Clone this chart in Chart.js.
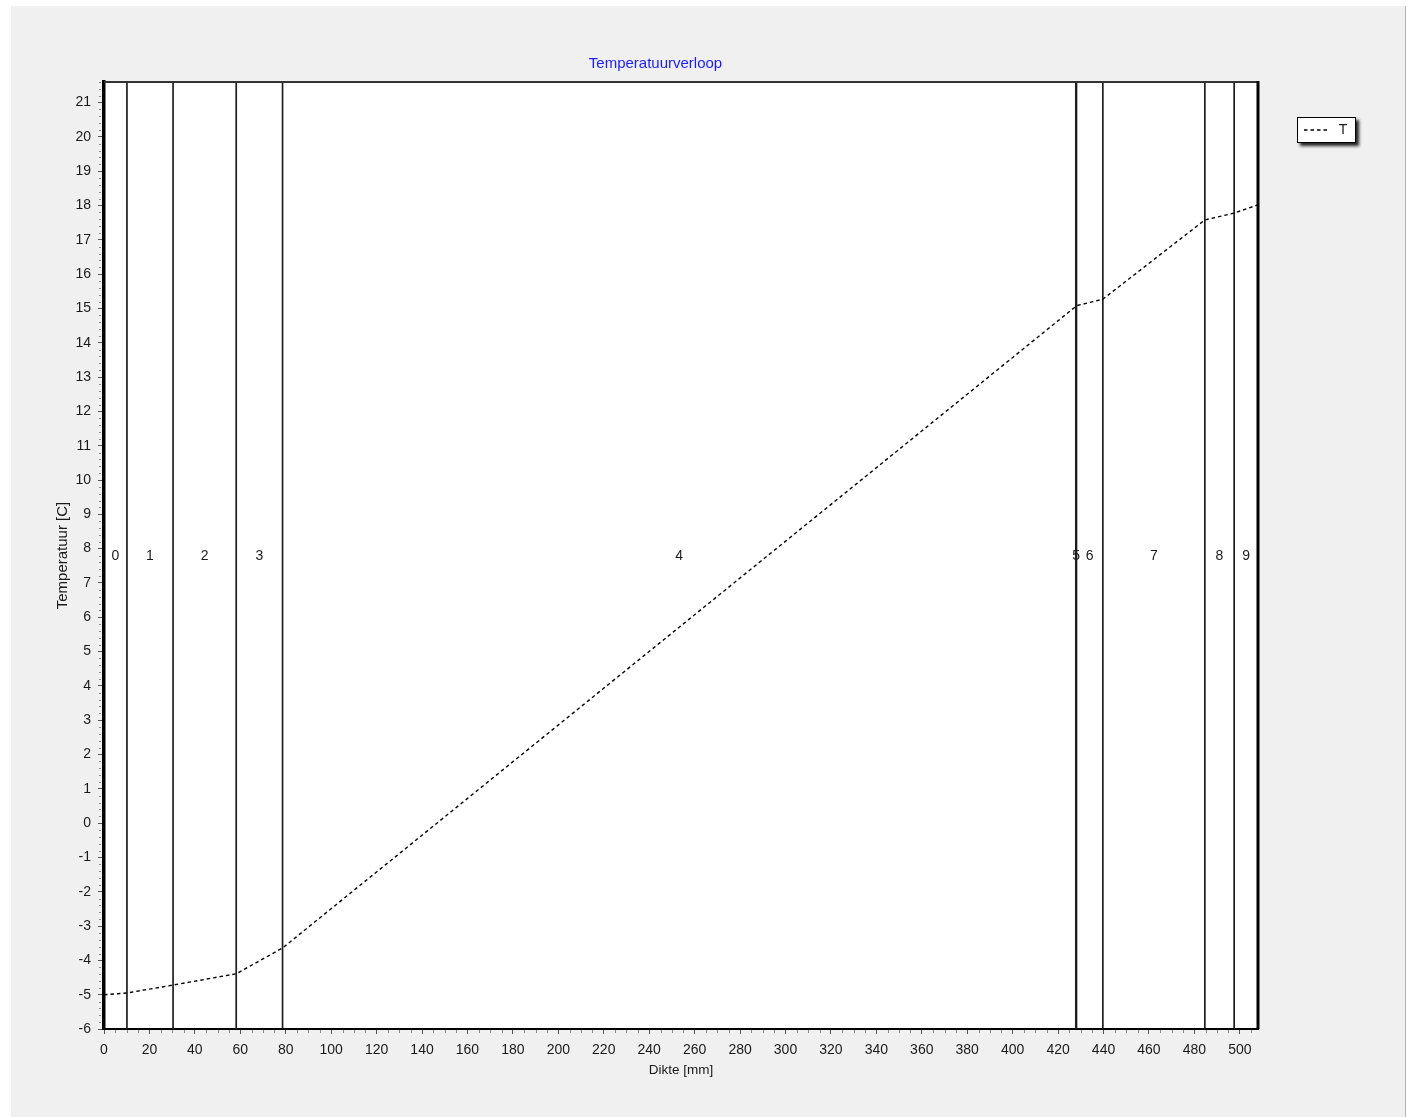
<!DOCTYPE html>
<html>
<head>
<meta charset="utf-8">
<title>Temperatuurverloop</title>
<script src="https://cdn.jsdelivr.net/npm/chart.js@4/dist/chart.umd.min.js"></script>
<style>
  html, body { margin: 0; padding: 0; background: #ffffff; }
  #frame {
    position: absolute; left: 11px; top: 6px; width: 1394px; height: 1111px;
    background: #f0f0f0; border-right: 1px solid #b4b4b4;
  }
  #chart { position: absolute; left: 0; top: 0; }
</style>
</head>
<body>
<div id="frame"></div>
<canvas id="chart" width="1412" height="1117"></canvas>
<script>
// layer numbers, shown in the middle of each layer
var layerNames = ['0', '1', '2', '3', '4', '5', '6', '7', '8', '9'];
// layer boundaries [mm], first is 0, last is total thickness
var layerEdges = [0, 10.1, 30.4, 58.2, 78.6, 427.8, 428.1, 439.7, 484.6, 497.5, 508];
// temperature at each boundary [C]
var temps = [-5.0, -4.95, -4.72, -4.39, -3.64, 15.06, 15.08, 15.27, 17.58, 17.78, 18.02];

var yMin = -6, yMax = 21.6;
var font = '"Liberation Sans", Arial, sans-serif';

// curve
var datasets = [{
  label: 'T',
  data: layerEdges.map(function (x, i) { return { x: x, y: temps[i] }; }),
  borderColor: '#000000',
  borderWidth: 1.4,
  borderDash: [3.5, 3],
  pointRadius: 0,
  tension: 0,
  fill: false
}];

// inner boundaries as vertical lines
layerEdges.slice(1, -1).forEach(function (x) {
  datasets.push({
    label: '',
    data: [{ x: x, y: yMin }, { x: x, y: yMax }],
    borderColor: '#1e1e1e',
    borderWidth: 1.7,
    pointRadius: 0,
    fill: false
  });
});

var frame = {
  id: 'frame',
  beforeDraw: function (chart) {
    var a = chart.chartArea, ctx = chart.ctx;
    ctx.save();
    ctx.fillStyle = '#ffffff';
    ctx.fillRect(a.left, a.top, a.right - a.left, a.bottom - a.top);
    ctx.restore();
  },
  beforeDatasetsDraw: function (chart) {
    // layer labels
    var a = chart.chartArea, ctx = chart.ctx, xs = chart.scales.x;
    var yMid = (a.top + a.bottom) / 2;
    ctx.save();
    ctx.font = '14px ' + font;
    ctx.fillStyle = '#1a1a1a';
    ctx.textAlign = 'center';
    ctx.textBaseline = 'middle';
    for (var i = 0; i < layerNames.length; i++) {
      var mid = (xs.getPixelForValue(layerEdges[i]) + xs.getPixelForValue(layerEdges[i + 1])) / 2;
      ctx.fillText(layerNames[i], mid, yMid + 1);
    }
    ctx.restore();
  },
  afterDraw: function (chart) {
    var a = chart.chartArea, ctx = chart.ctx;
    var xs = chart.scales.x, ys = chart.scales.y;
    ctx.save();
    // minor ticks
    ctx.strokeStyle = '#8a8a8a';
    ctx.lineWidth = 1;
    ctx.beginPath();
    for (var v = 5; v <= 508; v += 5) {
      if (v % 20 === 0) continue;
      var px = Math.round(xs.getPixelForValue(v)) + 0.5;
      ctx.moveTo(px, a.bottom + 1);
      ctx.lineTo(px, a.bottom + 4);
    }
    for (var k = 0; k <= (yMax - yMin) * 5; k++) {
      var val = yMin + k * 0.2;
      if (Math.abs(val - Math.round(val)) < 0.01) continue;
      var py = Math.round(ys.getPixelForValue(val)) + 0.5;
      ctx.moveTo(a.left - 5, py);
      ctx.lineTo(a.left - 3, py);
    }
    ctx.stroke();

    // top and right border
    ctx.strokeStyle = '#333333';
    ctx.lineWidth = 2;
    ctx.beginPath();
    ctx.moveTo(a.left, a.top);
    ctx.lineTo(a.right, a.top);
    ctx.stroke();
    ctx.strokeStyle = '#000000';
    ctx.lineWidth = 3;
    ctx.beginPath();
    ctx.moveTo(a.right, a.top - 1);
    ctx.lineTo(a.right, a.bottom);
    ctx.stroke();

    // legend box
    var lx = 1297, ly = 117, lw = 59, lh = 26;
    ctx.shadowColor = 'rgba(0,0,0,0.85)';
    ctx.shadowBlur = 3;
    ctx.shadowOffsetX = 3;
    ctx.shadowOffsetY = 3;
    ctx.fillStyle = '#ffffff';
    ctx.fillRect(lx, ly, lw, lh);
    ctx.shadowColor = 'transparent';
    ctx.strokeStyle = '#000000';
    ctx.lineWidth = 1;
    ctx.strokeRect(lx + 0.5, ly + 0.5, lw - 1, lh - 1);
    ctx.setLineDash([3.5, 3]);
    ctx.lineWidth = 1.4;
    ctx.beginPath();
    ctx.moveTo(lx + 7, ly + 13);
    ctx.lineTo(lx + 30, ly + 13);
    ctx.stroke();
    ctx.setLineDash([]);
    ctx.font = '14px ' + font;
    ctx.fillStyle = '#1a1a1a';
    ctx.textAlign = 'center';
    ctx.textBaseline = 'middle';
    ctx.fillText('T', lx + 46, ly + 13);
    ctx.restore();
  }
};

var ctx = document.getElementById('chart').getContext('2d');
var chart = new Chart(ctx, {
  type: 'line',
  data: { datasets: datasets },
  plugins: [frame],
  options: {
    responsive: false,
    animation: false,
    layout: { padding: { left: 0, right: 101, top: 0, bottom: 0 } },
    plugins: {
      legend: { display: false },
      tooltip: { enabled: false },
      title: {
        display: true,
        text: 'Temperatuurverloop',
        color: '#1c1cff',
        font: { family: font, size: 15, weight: 'normal' },
        padding: { top: 55, bottom: 9 }
      }
    },
    scales: {
      x: {
        type: 'linear',
        min: 0,
        max: 508,
        afterFit: function (scale) { scale.height = 88; },
        ticks: {
          stepSize: 20,
          includeBounds: false,
          color: '#1a1a1a',
          padding: 7.5,
          maxRotation: 0,
          font: { family: font, size: 14 }
        },
        grid: { drawOnChartArea: false, drawTicks: true, tickLength: 5, tickColor: '#555555' },
        border: { display: true, color: '#000000', width: 2 },
        title: {
          display: true,
          text: 'Dikte [mm]',
          color: '#1a1a1a',
          font: { family: font, size: 13.5 },
          padding: { top: 0, bottom: 39 }
        }
      },
      y: {
        type: 'linear',
        min: yMin,
        max: yMax,
        afterFit: function (scale) { scale.width = 104; },
        ticks: {
          stepSize: 1,
          includeBounds: false,
          color: '#1a1a1a',
          padding: 7,
          font: { family: font, size: 14 }
        },
        grid: { drawOnChartArea: false, drawTicks: true, tickLength: 6, tickColor: '#555555' },
        border: { display: true, color: '#000000', width: 3.5 },
        title: {
          display: true,
          text: 'Temperatuur [C]',
          color: '#1a1a1a',
          font: { family: font, size: 15 },
          padding: { top: 54, bottom: 0 }
        }
      },
      // empty strip right of the plot, keeps the title centred like the original
      yRight: {
        type: 'linear',
        position: 'right',
        afterFit: function (scale) { scale.width = 53; },
        ticks: { display: false },
        grid: { display: false },
        border: { display: false }
      }
    }
  }
});
</script>
</body>
</html>
